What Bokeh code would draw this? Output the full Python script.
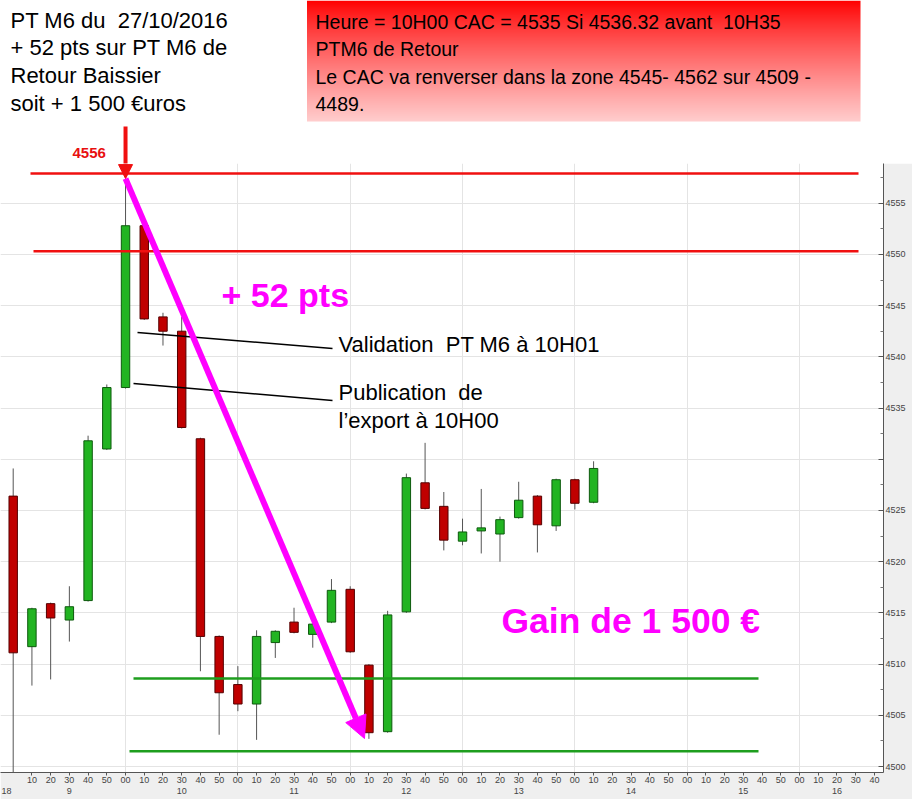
import numpy as np
from bokeh.plotting import figure
from bokeh.layouts import column
from bokeh.models import (Range1d, FixedTicker, LinearAxis, Label, Arrow,
                          NormalHead, ColumnDataSource)
from bokeh.embed import file_html
from bokeh.resources import INLINE

# ---------------- data (10-minute candles, CAC 40, 27/10/2016) ----------------
times = ["09:00", "09:10", "09:20", "09:30", "09:40", "09:50",
         "10:00", "10:10", "10:20", "10:30", "10:40", "10:50",
         "11:00", "11:10", "11:20", "11:30", "11:40", "11:50",
         "12:00", "12:10", "12:20", "12:30", "12:40", "12:50",
         "13:00", "13:10", "13:20", "13:30", "13:40", "13:50",
         "14:00", "14:10"]
opens = [4526.4, 4511.7, 4515.9, 4514.3, 4516.2, 4531.0,
         4537.0, 4552.8, 4543.9, 4542.5, 4532.0, 4512.7,
         4508.0, 4506.1, 4512.1, 4514.1, 4512.9, 4514.1,
         4517.3, 4509.9, 4503.4, 4515.1, 4527.7, 4525.4,
         4522.0, 4523.0, 4522.7, 4524.3, 4526.4, 4523.5,
         4528.0, 4525.8]
highs = [4529.1, 4515.5, 4516.0, 4517.6, 4532.3, 4537.3,
         4557.4, 4552.9, 4544.3, 4543.9, 4532.1, 4512.8,
         4509.8, 4513.3, 4513.3, 4515.5, 4514.0, 4518.3,
         4517.6, 4510.0, 4515.2, 4528.6, 4531.6, 4526.8,
         4524.2, 4527.1, 4524.4, 4527.8, 4526.5, 4528.1,
         4528.1, 4529.8]
lows = [4499.0, 4507.9, 4508.5, 4512.2, 4516.1, 4530.9,
        4536.9, 4543.6, 4541.1, 4533.0, 4509.3, 4503.1,
        4505.4, 4502.6, 4510.6, 4513.0, 4511.6, 4514.0,
        4511.1, 4502.7, 4503.3, 4515.0, 4525.1, 4521.1,
        4521.6, 4520.8, 4520.0, 4524.2, 4520.9, 4523.0,
        4525.1, 4525.7]
closes = [4511.1, 4515.4, 4514.5, 4515.6, 4531.8, 4537.0,
          4552.8, 4543.7, 4542.5, 4533.1, 4512.7, 4507.2,
          4506.1, 4512.7, 4513.2, 4513.1, 4513.9, 4517.2,
          4511.2, 4503.3, 4514.8, 4528.2, 4525.2, 4522.1,
          4522.9, 4523.3, 4524.1, 4526.0, 4523.6, 4528.0,
          4525.7, 4529.1]

resistance_levels = [4557.9, 4550.3]
support_levels = [4508.6, 4501.5]

y_ticks = [4500, 4505, 4510, 4515, 4520, 4525, 4530, 4535, 4540, 4545, 4550, 4555]
y_minor = [4502.5, 4507.5, 4512.5, 4517.5, 4522.5, 4527.5, 4532.5, 4537.5,
           4542.5, 4547.5, 4552.5, 4557.5]
y_hidden_label = 4530
hour_grid = [60, 120, 180, 240, 300, 360, 420]
minute_ticks = list(range(10, 470, 10))
minute_labels = ["%02d" % (m % 60) for m in minute_ticks]
hour_label_pos = [-3.6, 30, 90, 150, 210, 270, 330, 390, 440]
hour_labels = ["18", "9", "10", "11", "12", "13", "14", "15", "16"]

NB = "\u00a0"
header_left = ["PT M6 du " + NB + "27/10/2016", "+ 52 pts sur PT M6 de",
               "Retour Baissier", "soit + 1 500 €uros"]
header_right = ["Heure = 10H00 CAC = 4535 Si 4536.32 avant " + NB + "10H35",
                "PTM6 de Retour",
                "Le CAC va renverser dans la zone 4545- 4562 sur 4509 -",
                "4489."]
peak_text = "4556"
gain_pts_text = "+ 52 pts"
gain_eur_text = "Gain de 1 500 €"
note1 = "Validation " + NB + "PT M6 à 10H01"
note2 = ["Publication " + NB + "de", "l\u2019export à 10H00"]

# ---------------- geometry (reference pixels) ----------------
W, H = 912, 799
HEAD_H = 163                  # header band height
FRAME_W = 883                 # plot frame width (right axis panel beyond)
X0_PX, PX_PER_MIN = 12.7, 1.8722
Y_PX_4500, PX_PER_PT = 766.0, 10.242


def tx(px):
    return (px - X0_PX) / PX_PER_MIN


def py(px):
    return 4500 + (Y_PX_4500 - px) / PX_PER_PT


def hy(px):
    return HEAD_H - px


t = [(int(s[:2]) - 9) * 60 + int(s[3:]) for s in times]
up = [c >= o for o, c in zip(opens, closes)]
src = ColumnDataSource(dict(
    t=t, high=highs, low=lows,
    top=[max(o, c) for o, c in zip(opens, closes)],
    bottom=[min(o, c) for o, c in zip(opens, closes)],
    fill=["#22b422" if u else "#c00000" for u in up],
    line=["#0d5a0d" if u else "#550000" for u in up],
))
i_peak = times.index("10:00")
peak_px = X0_PX + t[i_peak] * PX_PER_MIN
RED = "#f01010"
MAG = "#ff00ff"
FONT = "Liberation Sans"

# ================= header band =================
hd = figure(width=W, height=HEAD_H, output_backend="svg", toolbar_location=None,
            x_range=Range1d(0, FRAME_W), y_range=Range1d(0, HEAD_H),
            min_border_left=0, min_border_top=0, min_border_bottom=0,
            min_border_right=W - FRAME_W,
            border_fill_color="white", background_fill_color="white",
            outline_line_color=None)
hd.axis.visible = False
hd.grid.visible = False

# red gradient box
N = 121
img = np.empty((N, 1), dtype=np.uint32)
view = img.view(dtype=np.uint8).reshape((N, 1, 4))
for r in range(N):
    f = 1 - r / (N - 1)          # 0 at top, 1 at bottom
    g = int(205 * f ** 0.85)
    view[r, 0, 0] = 255
    view[r, 0, 1] = g
    view[r, 0, 2] = g
    view[r, 0, 3] = 255
hd.image_rgba(image=[img], x=306.5, y=hy(121), dw=860 - 306.5, dh=121)

for k, s in enumerate(header_left):
    hd.add_layout(Label(x=10, y=hy(19.5 + 27.7 * k), text=s, text_font=FONT,
                        text_font_size="22px", text_color="black", text_baseline="middle"))
for k, s in enumerate(header_right):
    hd.add_layout(Label(x=315, y=hy(21.5 + 27.3 * k), text=s, text_font=FONT,
                        text_font_size="19.5px", text_color="black", text_baseline="middle"))
hd.add_layout(Label(x=72, y=hy(152.5), text=peak_text, text_font=FONT,
                    text_font_size="15px", text_font_style="bold", text_color="#e81010",
                    text_baseline="middle"))
# upper part of the red pointer
hd.segment(x0=[peak_px], y0=[hy(126)], x1=[peak_px], y1=[hy(HEAD_H + 2)],
           line_color=RED, line_width=4)

# ================= chart =================
p = figure(width=W, height=H - HEAD_H, output_backend="svg", toolbar_location=None,
           x_range=Range1d(tx(0), tx(FRAME_W)), y_range=Range1d(py(772), py(HEAD_H)),
           y_axis_location="right", min_border_left=0, min_border_top=0,
           min_border_right=W - FRAME_W, min_border_bottom=27,
           border_fill_color="#efefef", background_fill_color="white",
           outline_line_color=None)

p.xgrid.ticker = FixedTicker(ticks=hour_grid)
p.ygrid.ticker = FixedTicker(ticks=y_ticks)
p.grid.grid_line_color = "#e4e4e4"
p.grid.grid_line_width = 1

ya = p.yaxis[0]
ya.ticker = FixedTicker(ticks=y_ticks, minor_ticks=y_minor)
ya.major_label_overrides = {y_hidden_label: ""}
ya.major_tick_in = 5
ya.major_tick_out = 0
ya.minor_tick_in = 3
ya.minor_tick_out = 0
ya.axis_line_color = "#555555"
ya.major_tick_line_color = "#555555"
ya.minor_tick_line_color = "#777777"
ya.major_label_standoff = 2
ya.major_label_text_font = FONT
ya.major_label_text_font_size = "9px"
ya.major_label_text_color = "#444444"

xa = p.xaxis[0]
xa.ticker = FixedTicker(ticks=minute_ticks)
xa.major_label_overrides = dict(zip(minute_ticks, minute_labels))
xa.major_tick_in = 0
xa.major_tick_out = 3
xa.minor_tick_line_color = None
xa.axis_line_color = "#555555"
xa.major_tick_line_color = "#555555"
xa.major_label_standoff = 1
xa.major_label_text_font = FONT
xa.major_label_text_font_size = "9px"
xa.major_label_text_color = "#444444"

ha = LinearAxis(ticker=FixedTicker(ticks=hour_label_pos),
                major_label_overrides=dict(zip(hour_label_pos, hour_labels)),
                axis_line_color=None, major_tick_line_color=None,
                minor_tick_line_color=None, major_tick_out=0, major_tick_in=0,
                major_label_standoff=2, major_label_text_font=FONT,
                major_label_text_font_size="9px", major_label_text_color="#444444")
p.add_layout(ha, "below")

# candles
p.segment(x0="t", y0="low", x1="t", y1="high", line_color="#555555", line_width=1, source=src)
p.vbar(x="t", width=4.5, top="top", bottom="bottom", fill_color="fill",
       line_color="line", line_width=1, source=src)

# horizontal zones
p.segment(x0=[tx(30), tx(33)], x1=[tx(858), tx(858)], y0=resistance_levels,
          y1=resistance_levels, line_color=RED, line_width=2.5)
p.segment(x0=[tx(133), tx(129)], x1=[tx(758), tx(758)], y0=support_levels,
          y1=support_levels, line_color="#1e9e1e", line_width=2.5)

# annotation pointer lines
p.segment(x0=[tx(137), tx(133)], y0=[py(332), py(383)],
          x1=[tx(332), tx(332)], y1=[py(348), py(400)],
          line_color="black", line_width=1.5)

# arrows
p.add_layout(Arrow(end=NormalHead(size=14, fill_color=RED, line_color=RED),
                   x_start=t[i_peak], y_start=py(HEAD_H - 2), x_end=t[i_peak],
                   y_end=highs[i_peak], line_color=RED, line_width=4))
p.add_layout(Arrow(end=NormalHead(size=22, fill_color=MAG, line_color=MAG),
                   x_start=t[i_peak], y_start=highs[i_peak], x_end=tx(364), y_end=py(738),
                   line_color=MAG, line_width=6))

# texts
p.add_layout(Label(x=tx(221), y=py(294), text=gain_pts_text, text_font=FONT,
                   text_font_size="34px", text_font_style="bold", text_color=MAG,
                   text_baseline="middle"))
p.add_layout(Label(x=tx(501), y=py(620.5), text=gain_eur_text, text_font=FONT,
                   text_font_size="35.5px", text_font_style="bold", text_color=MAG,
                   text_baseline="middle"))
p.add_layout(Label(x=tx(338), y=py(343.5), text=note1, text_font=FONT,
                   text_font_size="22px", text_color="black", text_baseline="middle"))
for k, s in enumerate(note2):
    p.add_layout(Label(x=tx(338), y=py(391.5 + 28 * k), text=s, text_font=FONT,
                       text_font_size="22px", text_color="black", text_baseline="middle"))

layout = column(hd, p, spacing=0)
open("out.html", "w").write(file_html(layout, INLINE))
